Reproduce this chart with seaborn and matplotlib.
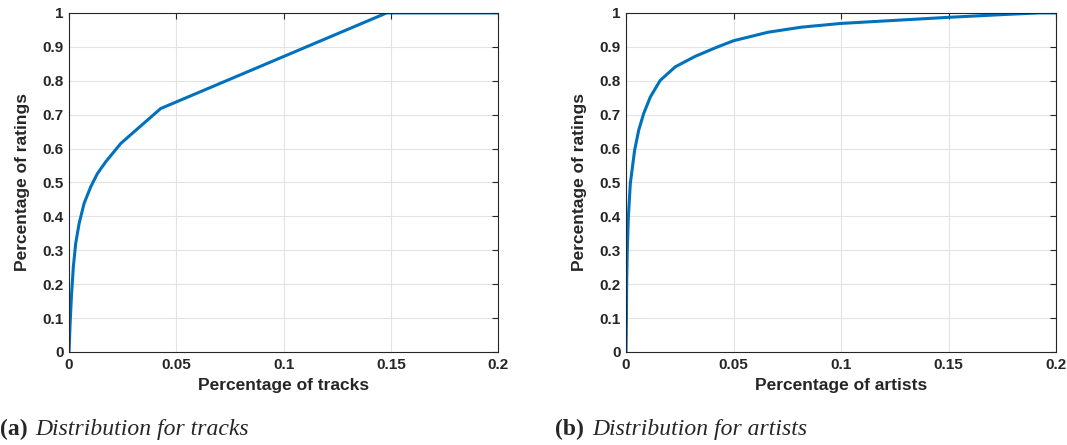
import seaborn as sns
import matplotlib.pyplot as plt
import pandas as pd

# values
tracks_x = [0, 0.0005, 0.0011, 0.002, 0.0031, 0.0047, 0.007, 0.0101, 0.0132, 0.0171,
            0.0241, 0.0427, 0.148, 0.2]
tracks_y = [0, 0.084, 0.162, 0.251, 0.320, 0.379, 0.438, 0.487, 0.526, 0.561,
            0.615, 0.718, 1.0, 1.0]

artists_x = [0, 0.0002, 0.0003, 0.0006, 0.0011, 0.002, 0.004, 0.0059, 0.0082, 0.0113,
             0.0159, 0.0229, 0.0322, 0.0415, 0.05, 0.066, 0.0816, 0.1, 0.125, 0.15,
             0.175, 0.192, 0.2]
artists_y = [0, 0.103, 0.202, 0.300, 0.398, 0.497, 0.595, 0.654, 0.703, 0.752,
             0.801, 0.841, 0.872, 0.897, 0.918, 0.943, 0.958, 0.969, 0.978, 0.987,
             0.995, 1.0, 1.0]

xlabels = ["Percentage of tracks", "Percentage of artists"]
captions = [("(a)", "Distribution for tracks"), ("(b)", "Distribution for artists")]

tracks_df = pd.DataFrame({"x": tracks_x, "y": tracks_y})
artists_df = pd.DataFrame({"x": artists_x, "y": artists_y})

sns.set_style("white")
plt.rcParams['font.family'] = ['Liberation Sans', 'DejaVu Sans']

fig = plt.figure(figsize=(10.67, 4.45), dpi=100)
ax1 = fig.add_axes([0.0647, 0.209, 0.4023, 0.762])
ax2 = fig.add_axes([0.5867, 0.209, 0.4033, 0.762])

for ax, df, xl in zip([ax1, ax2], [tracks_df, artists_df], xlabels):
    sns.lineplot(data=df, x="x", y="y", ax=ax, color="#0072BD", linewidth=2.2)
    ax.set_xlim(0, 0.2)
    ax.set_ylim(0, 1)
    ax.set_xticks([0, 0.05, 0.1, 0.15, 0.2])
    ax.set_xticklabels(["0", "0.05", "0.1", "0.15", "0.2"])
    ax.set_yticks([i / 10 for i in range(11)])
    ax.set_yticklabels(["0"] + [f"{i/10:g}" for i in range(1, 10)] + ["1"])
    ax.grid(True, color="#e3e3e3", linewidth=0.8)
    ax.tick_params(direction="in", length=4, width=0.8, colors="#262626",
                   labelsize=11, top=True, right=True, pad=4)
    for lab in ax.get_xticklabels() + ax.get_yticklabels():
        lab.set_fontweight("bold")
    for s in ax.spines.values():
        s.set_color("#262626")
        s.set_linewidth(0.8)
    ax.set_xlabel(xl, fontsize=12.5, fontweight="bold", labelpad=5, color="#262626")
    ax.set_ylabel("Percentage of ratings", fontsize=12.5, fontweight="bold",
                  labelpad=9, color="#262626")

fig.text(0.0, 0.034, captions[0][0], fontsize=17, fontweight="bold",
         family="Liberation Serif", va="center", ha="left")
fig.text(0.0335, 0.034, captions[0][1], fontsize=17, style="italic",
         family="Liberation Serif", va="center", ha="left")
fig.text(0.520, 0.034, captions[1][0], fontsize=17, fontweight="bold",
         family="Liberation Serif", va="center", ha="left")
fig.text(0.555, 0.034, captions[1][1], fontsize=17, style="italic",
         family="Liberation Serif", va="center", ha="left")

fig.savefig("out.png", dpi=100)
